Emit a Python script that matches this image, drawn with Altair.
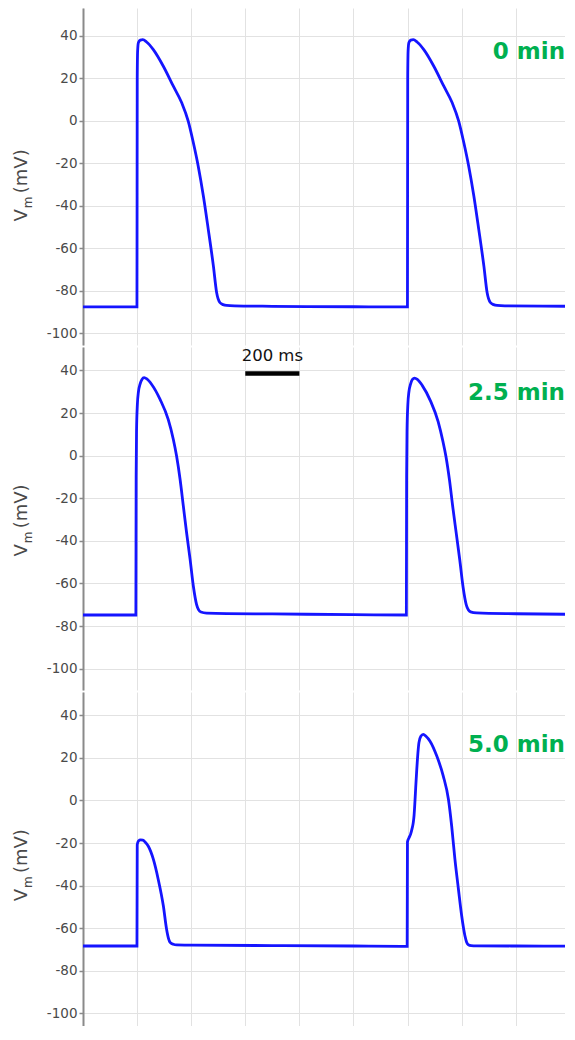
import altair as alt
import pandas as pd

# ---- data (time in ms, membrane potential in mV) ----
t_0min = [0, 199.5, 200.5, 202, 205, 212, 221, 235, 260, 297, 334, 365, 389, 408, 426,
          445, 463, 482, 494, 506, 518, 531, 560, 700, 1000,
          1199.5, 1200.5, 1202, 1205, 1212, 1221, 1235, 1260, 1297, 1334, 1365, 1389, 1408, 1426,
          1445, 1463, 1482, 1494, 1506, 1518, 1531, 1560, 1700, 1819]
v_0min = [-87.6, -87.6, 20, 33, 36.8, 37.9, 38.1, 37, 33.4, 25.6, 16.2, 8.4, -0.2, -10.4, -21.4,
          -35.4, -51, -68.3, -80.8, -85.5, -86.5, -86.9, -87.1, -87.3, -87.5,
          -87.6, 20, 33, 36.8, 37.9, 38.1, 37, 33.4, 25.6, 16.2, 8.4, -0.2, -10.4, -21.4,
          -35.4, -51, -68.3, -80.8, -85.5, -86.5, -86.9, -87.1, -87.2, -87.3]

t_25min = [0, 195.5, 196.5, 198, 201, 205, 211, 218, 226, 236, 254, 285, 315, 334, 346, 359,
           371, 383, 396, 408, 420, 428, 436, 457, 700, 1000,
           1195.5, 1196.5, 1198, 1201, 1205, 1211, 1218, 1226, 1236, 1254, 1285, 1313, 1331, 1342, 1355,
           1367, 1380, 1393, 1405, 1417, 1425, 1433, 1455, 1600, 1819]
v_25min = [-74.8, -74.8, -10, 12, 24, 30, 33.6, 35.8, 36.6, 36, 33.4, 26.4, 17, 7.6, -0.2, -11.2,
           -23.7, -36.2, -48.7, -61.3, -69.9, -72.5, -73.4, -73.9, -74.3, -74.6,
           -74.8, -10, 12, 24, 30, 33.6, 35.8, 36.4, 35.8, 33, 25.6, 16, 6.5, -0.5, -11.5,
           -24, -36.5, -49, -61.5, -70, -72.4, -73.3, -73.8, -74.2, -74.5]

t_50min = [0, 199.5, 200.5, 205, 213, 221, 230, 241, 260, 278, 297, 309, 316, 322, 334, 346,
           400, 700, 1000,
           1198.5, 1199.5, 1205, 1211, 1217, 1221, 1224, 1227, 1230, 1234, 1238, 1242, 1249,
           1258, 1268, 1283, 1308, 1332, 1351, 1363, 1375, 1388, 1400, 1412, 1418, 1424, 1435,
           1455, 1600, 1819]
v_50min = [-68.4, -68.4, -20.8, -19, -18.5, -18.6, -19.6, -21.4, -27.6, -37, -49.5, -60.5, -64.8,
           -66.7, -67.6, -67.9, -68, -68.2, -68.4,
           -68.6, -19.5, -17.6, -15.9, -13, -10.4, -7, -1, 6, 14.6, 22, 27.2, 30.2,
           31.1, 30.2, 27.9, 20.9, 11.5, 0.6, -12, -27.6, -41.7, -54.2, -63.6, -66.5, -67.7,
           -68.2, -68.3, -68.4, -68.5]

series_t = [t_0min, t_25min, t_50min]
series_v = [v_0min, v_25min, v_50min]
labels = ["0 min", "2.5 min", "5.0 min"]
label_t = [1782, 1782, 1782]
label_v = [29.2, 25.9, 22.6]
y_domains = [[-105.5, 53], [-110, 51], [-106, 51]]
heights = [337, 343, 334]
y_ticks = [-100, -80, -60, -40, -20, 0, 20, 40]
x_grid = [0, 200, 400, 600, 800, 1000, 1200, 1400, 1600, 1800]
x_max = 1782
scalebar_t = [600, 800]
scalebar_v = 38.6
scalebar_text = "200 ms"
scalebar_text_v = 44.2

FONT = "DejaVu Sans"
GRID = "#e2e2e2"
AXIS_GRAY = "#8a8a8a"
TEXT_GRAY = "#4a4a4a"
BLUE = "#1515ff"
GREEN = "#00b050"


def make_panel(i):
    df = pd.DataFrame({"t": series_t[i], "v": series_v[i], "k": list(range(len(series_t[i])))})
    x_enc = alt.X("t:Q",
                  scale=alt.Scale(domain=[0, x_max], nice=False, zero=False),
                  axis=alt.Axis(values=[g for g in x_grid if g <= x_max], labels=False,
                                ticks=False, domain=False,
                                grid=True, gridColor=GRID, gridWidth=1, title=None))
    y_enc = alt.Y("v:Q",
                  scale=alt.Scale(domain=y_domains[i], nice=False, zero=False),
                  axis=alt.Axis(values=y_ticks, grid=True, gridColor=GRID, gridWidth=1,
                                domainColor=AXIS_GRAY, domainWidth=2,
                                tickColor=AXIS_GRAY, tickSize=4, tickWidth=1.5,
                                labelPadding=2, labelFont=FONT, labelFontSize=13.5,
                                labelColor=TEXT_GRAY, labelExpr="toString(datum.value)",
                                title=None))

    line = alt.Chart(df).mark_line(color=BLUE, strokeWidth=2.8, interpolate="monotone",
                                   clip=True).encode(
        x=x_enc, y=y_enc, order="k:Q")

    lab_df = pd.DataFrame({"t": [label_t[i]], "v": [label_v[i]], "txt": [labels[i]]})
    lab = alt.Chart(lab_df).mark_text(align="right", baseline="alphabetic", font=FONT,
                                      fontSize=23, fontWeight="bold", color=GREEN).encode(
        x=x_enc, y=y_enc, text="txt:N")

    # y-axis title "V_m (mV)" built from rotated text pieces
    tdf = pd.DataFrame({"v": [-44.5], "s": ["V"]})
    mdf = pd.DataFrame({"v": [-38.4], "s": ["m"]})
    pdf = pd.DataFrame({"v": [-23.8], "s": ["(mV)"]})
    t_v = alt.Chart(tdf).mark_text(angle=270, align="center", baseline="alphabetic", font=FONT,
                                   fontSize=18, color=TEXT_GRAY).encode(
        x=alt.value(-56), y=y_enc, text="s:N")
    t_m = alt.Chart(mdf).mark_text(angle=270, align="center", baseline="alphabetic", font=FONT,
                                   fontSize=12, color=TEXT_GRAY).encode(
        x=alt.value(-51), y=y_enc, text="s:N")
    t_p = alt.Chart(pdf).mark_text(angle=270, align="center", baseline="alphabetic", font=FONT,
                                   fontSize=18, color=TEXT_GRAY).encode(
        x=alt.value(-56), y=y_enc, text="s:N")

    layers = [line, lab, t_v, t_m, t_p]

    if i == 1:
        sb_df = pd.DataFrame({"t": [scalebar_t[0]], "t2": [scalebar_t[1]], "v": [scalebar_v]})
        bar = alt.Chart(sb_df).mark_rule(color="black", strokeWidth=4.5).encode(
            x=x_enc, x2="t2:Q", y=y_enc)
        st_df = pd.DataFrame({"t": [(scalebar_t[0] + scalebar_t[1]) / 2], "v": [scalebar_text_v],
                              "s": [scalebar_text]})
        stxt = alt.Chart(st_df).mark_text(align="center", baseline="alphabetic", font=FONT,
                                          fontSize=16.5, color="#111111").encode(
            x=x_enc, y=y_enc, text="s:N")
        layers += [bar, stxt]

    return alt.layer(*layers).properties(width=482, height=heights[i])


chart = alt.vconcat(make_panel(0), make_panel(1), make_panel(2), spacing=2).configure_view(
    stroke=None).properties(padding={"left": 4, "right": 0, "top": 0, "bottom": 0})

chart.save("out.html", embed_options={"renderer": "svg", "actions": False})
